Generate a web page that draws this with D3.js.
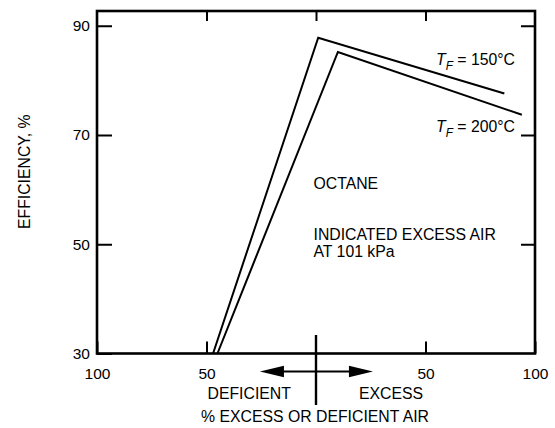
<!DOCTYPE html>
<html>
<head>
<meta charset="utf-8">
<script src="https://cdn.jsdelivr.net/npm/d3@7"></script>
<style>
  html, body { margin: 0; padding: 0; background: #fff; }
  svg text { font-family: "Liberation Sans", Arial, Helvetica, sans-serif; fill: #000; }
</style>
</head>
<body>
<svg id="chart" width="555" height="428"></svg>
<script>
// Flue-gas efficiency of octane vs. % excess (+) / deficient (-) air
const seriesNames = ["150", "200"];
const tf150 = [[-47, 30], [1, 87.8], [86, 77.6]];
const tf200 = [[-45, 30], [10, 85.2], [94, 73.7]];
const xTickValues = [-100, -50, 50, 100];
const xTopTicks = [-50, 0, 50];
const yTickValues = [30, 50, 70, 90];
const yRightTicks = [50, 70, 90];

const svg = d3.select("#chart");
const plot = { left: 97, right: 535, top: 11, bottom: 353.5 };

const x = d3.scaleLinear().domain([-100, 100]).range([plot.left, plot.right]);
const y = d3.scaleLinear().domain([30, 92.7]).range([plot.bottom, plot.top]);

const FS = 15.8;

// axes (ticks point inward)
const gl = svg.append("g").attr("transform", `translate(${plot.left},0)`)
  .call(d3.axisLeft(y).tickValues(yTickValues).tickSizeInner(-15).tickSizeOuter(0).tickPadding(7));
const gb = svg.append("g").attr("transform", `translate(0,${plot.bottom})`)
  .call(d3.axisBottom(x).tickValues(xTickValues).tickSizeInner(-12).tickSizeOuter(0).tickPadding(14)
    .tickFormat(d => Math.abs(d)));
const gt = svg.append("g").attr("transform", `translate(0,${plot.top})`)
  .call(d3.axisTop(x).tickValues(xTopTicks).tickSizeInner(-10).tickSizeOuter(0).tickFormat(""));
const gr = svg.append("g").attr("transform", `translate(${plot.right},0)`)
  .call(d3.axisRight(y).tickValues(yRightTicks).tickSizeInner(-14).tickSizeOuter(0).tickFormat(""));

[gl, gb, gt, gr].forEach(g => {
  g.select(".domain").remove();
  g.selectAll(".tick line").attr("stroke", "#000").attr("stroke-width", 2);
  g.selectAll(".tick text").attr("font-size", 15.5).attr("font-family", null).attr("fill", "#000");
});

// plot frame
svg.append("rect")
  .attr("x", plot.left).attr("y", plot.top)
  .attr("width", plot.right - plot.left).attr("height", plot.bottom - plot.top)
  .attr("fill", "none").attr("stroke", "#000").attr("stroke-width", 2.6);

// efficiency curves
const line = d3.line().x(d => x(d[0])).y(d => y(d[1]));
[tf150, tf200].forEach(s => {
  svg.append("path").datum(s)
    .attr("d", line)
    .attr("fill", "none").attr("stroke", "#000")
    .attr("stroke-width", 2).attr("stroke-linejoin", "miter");
});

// curve labels
function tfLabel(name, baseY) {
  const t = svg.append("text").attr("x", 515).attr("y", baseY)
    .attr("text-anchor", "end").attr("font-size", FS);
  t.append("tspan").attr("font-style", "italic").text("T");
  t.append("tspan").attr("font-style", "italic").attr("font-size", FS * 0.75).attr("dy", 5).text("F");
  t.append("tspan").attr("dy", -5).text(` = ${name}°C`);
}
tfLabel(seriesNames[0], 65);
tfLabel(seriesNames[1], 131.5);

// notes
svg.append("text").attr("x", 313.5).attr("y", 188.5).attr("font-size", FS).text("OCTANE");
svg.append("text").attr("x", 313.5).attr("y", 240).attr("font-size", FS).text("INDICATED EXCESS AIR");
svg.append("text").attr("x", 313.5).attr("y", 257).attr("font-size", FS).text("AT 101 kPa");

// zero-air marker and direction arrow
svg.append("line")
  .attr("x1", x(0)).attr("x2", x(0)).attr("y1", 335).attr("y2", 405)
  .attr("stroke", "#000").attr("stroke-width", 2.4);

const arrowY = 371.5, aL = x(-25.6), aR = x(26), headLen = 24, headH = 5.8;
svg.append("line")
  .attr("x1", aL + headLen - 2).attr("x2", aR - headLen + 2)
  .attr("y1", arrowY).attr("y2", arrowY)
  .attr("stroke", "#000").attr("stroke-width", 2.2);
svg.append("path")
  .attr("d", `M${aL},${arrowY}L${aL + headLen},${arrowY - headH}L${aL + headLen},${arrowY + headH}Z`)
  .attr("fill", "#000");
svg.append("path")
  .attr("d", `M${aR},${arrowY}L${aR - headLen},${arrowY - headH}L${aR - headLen},${arrowY + headH}Z`)
  .attr("fill", "#000");

svg.append("text").attr("x", 249.2).attr("y", 399.3).attr("text-anchor", "middle")
  .attr("font-size", FS).text("DEFICIENT");
svg.append("text").attr("x", 391).attr("y", 399.3).attr("text-anchor", "middle")
  .attr("font-size", FS).text("EXCESS");
svg.append("text").attr("x", x(0) - 1).attr("y", 421.7).attr("text-anchor", "middle")
  .attr("font-size", FS).text("% EXCESS OR DEFICIENT AIR");

// y-axis title
svg.append("text")
  .attr("transform", `translate(30,171.7) rotate(-90)`)
  .attr("text-anchor", "middle").attr("font-size", FS)
  .text("EFFICIENCY, %");
</script>
</body>
</html>
